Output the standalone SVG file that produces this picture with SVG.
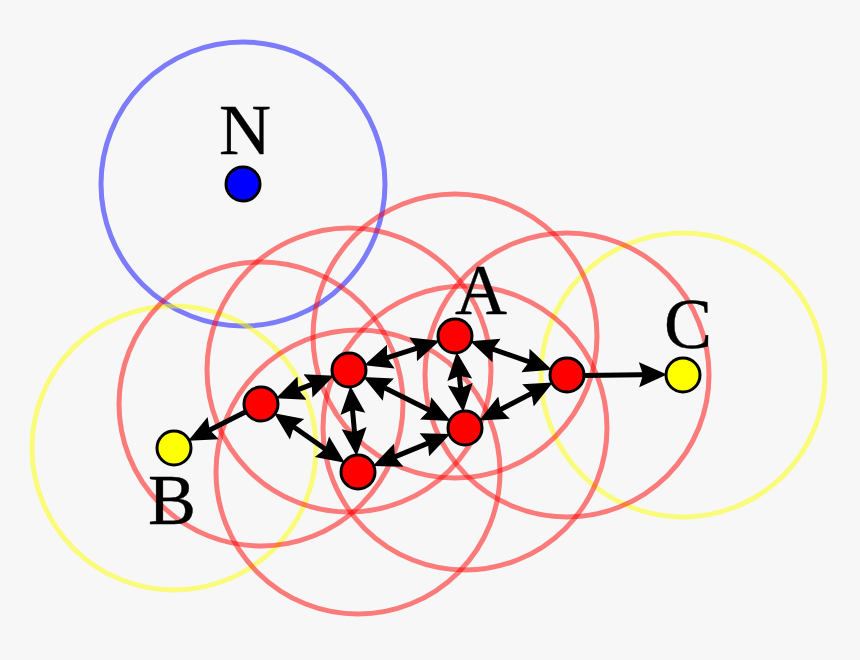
<svg xmlns="http://www.w3.org/2000/svg" width="860" height="660" viewBox="0 0 860 660">
  <style>
    .range { fill: none; stroke-width: 5; }
    .r { stroke: #ff0000; stroke-opacity: 0.5; }
    .y { stroke: #ffff00; stroke-opacity: 0.5; }
    .b { stroke: #0000ff; stroke-opacity: 0.5; }
    .dot { stroke: #000; stroke-width: 3; }
    .lab { font-family: "Liberation Serif", "Times New Roman", serif; font-size: 72px; fill: #000; stroke: #000; stroke-width: 0.4; text-anchor: middle; }
    .e { stroke: #000; stroke-width: 5; fill: none; marker-end: url(#head); }
    .both { marker-start: url(#head); }
  </style>
  <defs>
    <marker id="head" markerUnits="userSpaceOnUse" markerWidth="30" markerHeight="28" refX="20" refY="14" orient="auto-start-reverse" viewBox="0 0 30 28">
      <path d="M28,14 L0,1.5 L4,14 L0,26.5 Z" fill="#000"/>
    </marker>
  </defs>
  <rect width="860" height="660" fill="#f7f7f7"/>
  <g id="ranges">
    <circle class="range b" cx="243" cy="184" r="142"/>
    <circle class="range y" cx="174" cy="448" r="142"/>
    <circle class="range y" cx="683" cy="375" r="142"/>
    <circle class="range r" cx="455" cy="336" r="142"/>
    <circle class="range r" cx="349" cy="370" r="142"/>
    <circle class="range r" cx="261" cy="404" r="142"/>
    <circle class="range r" cx="358" cy="472" r="142"/>
    <circle class="range r" cx="465" cy="428" r="142"/>
    <circle class="range r" cx="567" cy="375" r="142"/>
  </g>
  <g id="node-N"><circle class="dot" cx="243" cy="184" r="17" fill="#0000ff"/><text class="lab" x="245" y="154">N</text></g>
  <g id="node-A"><circle class="dot" cx="455" cy="336" r="17" fill="#ff0000"/><text class="lab" x="481" y="314">A</text></g>
  <g id="node-B"><circle class="dot" cx="174" cy="448" r="17" fill="#ffff00"/><text class="lab" x="172" y="524">B</text></g>
  <g id="node-C"><circle class="dot" cx="683" cy="375" r="17" fill="#ffff00"/><text class="lab" x="688" y="348">C</text></g>
  <g id="node-2"><circle class="dot" cx="349" cy="370" r="17" fill="#ff0000"/></g>
  <g id="node-3"><circle class="dot" cx="261" cy="404" r="17" fill="#ff0000"/></g>
  <g id="node-4"><circle class="dot" cx="358" cy="472" r="17" fill="#ff0000"/></g>
  <g id="node-5"><circle class="dot" cx="465" cy="428" r="17" fill="#ff0000"/></g>
  <g id="node-6"><circle class="dot" cx="567" cy="375" r="17" fill="#ff0000"/></g>
  <g id="connectors">
    <line class="e both" x1="432.1" y1="343.3" x2="371.8" y2="362.7"/>
    <line class="e both" x1="326.6" y1="378.6" x2="283.4" y2="395.4"/>
    <line class="e both" x1="280.7" y1="417.8" x2="338.3" y2="458.2"/>
    <line class="e both" x1="351.1" y1="393.9" x2="355.9" y2="448.1"/>
    <line class="e both" x1="370.5" y1="380.7" x2="443.5" y2="417.3"/>
    <line class="e both" x1="457.6" y1="359.9" x2="462.4" y2="404.1"/>
    <line class="e both" x1="477.7" y1="343.9" x2="544.3" y2="367.1"/>
    <line class="e both" x1="486.3" y1="416.9" x2="545.7" y2="386.1"/>
    <line class="e both" x1="380.2" y1="462.9" x2="442.8" y2="437.1"/>
    <line class="e" x1="245.8" y1="411.7" x2="195.4" y2="437.2"/>
    <line class="e" x1="584" y1="375.5" x2="659" y2="374.5"/>
  </g>
</svg>
